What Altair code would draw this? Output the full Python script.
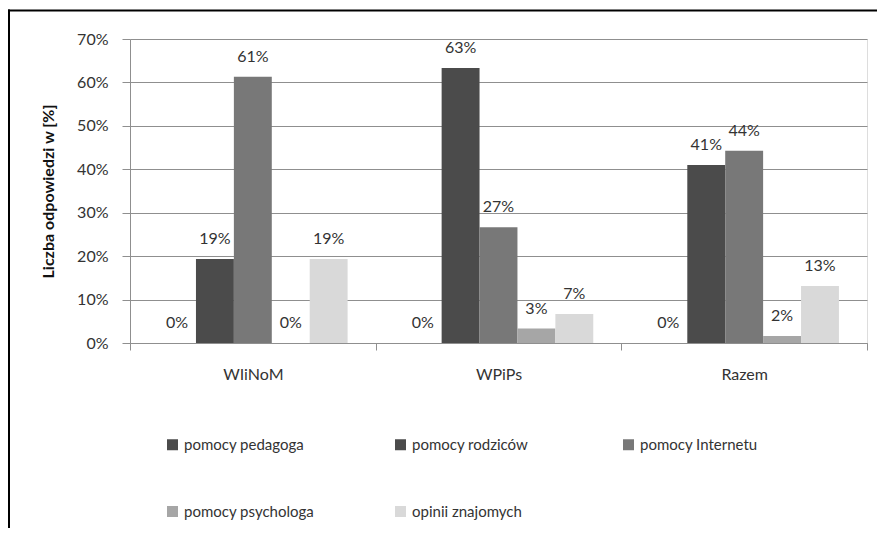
import altair as alt
import pandas as pd

groups = ["WIiNoM", "WPiPs", "Razem"]
series = ["pomocy pedagoga", "pomocy rodziców", "pomocy Internetu",
          "pomocy psychologa", "opinii znajomych"]
colors = ["#4b4b4b", "#4b4b4b", "#787878", "#a6a6a6", "#d9d9d9"]
wiinom = [0.0, 0.1935, 0.6129, 0.0, 0.1935]
wpips = [0.0, 0.6333, 0.2667, 0.0333, 0.0667]
razem = [0.0, 0.4098, 0.4426, 0.0164, 0.1311]
y_ticks = [0.0, 0.1, 0.2, 0.3, 0.4, 0.5, 0.6, 0.7]

rows = []
for g, vals in zip(groups, [wiinom, wpips, razem]):
    for s, v in zip(series, vals):
        rows.append({"group": g, "series": s, "value": v})
df = pd.DataFrame(rows)

FONT = "Lato"
TXT = "#333333"
GRID = "#8f8f8f"

x = alt.X("group:N", sort=groups,
          scale=alt.Scale(paddingInner=0, paddingOuter=0),
          axis=alt.Axis(title=None, labelAngle=0, tickBand="extent",
                        domainColor=GRID, tickColor=GRID, tickSize=7,
                        labelPadding=16, labelFontSize=16, labelColor=TXT,
                        labelFont=FONT, grid=False))
xo = alt.XOffset("series:N", sort=series,
                 scale=alt.Scale(paddingInner=0, paddingOuter=0.74))
y = alt.Y("value:Q", scale=alt.Scale(domain=[0, 0.7], nice=False),
          axis=alt.Axis(values=y_ticks, format=".0%",
                        title="Liczba odpowiedzi w [%]",
                        titleFont=FONT, titleFontSize=16, titleFontWeight="bold",
                        titleColor="#111111", titleAngle=-90,
                        titleX=-82, titleY=152, titleAlign="center",
                        titleBaseline="middle",
                        domainColor=GRID, tickColor=GRID, tickSize=8,
                        labelPadding=14, labelFontSize=16, labelColor=TXT,
                        labelFont=FONT, grid=True, gridColor=GRID,
                        gridWidth=1))

bars = alt.Chart(df).mark_bar().encode(
    x=x, xOffset=xo, y=y,
    color=alt.Color("series:N", sort=series,
                    scale=alt.Scale(domain=series, range=colors),
                    legend=alt.Legend(title=None, orient="none", legendX=35,
                                      legendY=398, columns=3,
                                      direction="horizontal",
                                      gridAlign="all", columnPadding=78,
                                      rowPadding=51, symbolType="square",
                                      symbolSize=121, symbolStrokeWidth=0,
                                      labelFont=FONT, labelFontSize=15,
                                      labelColor=TXT, labelOffset=4,
                                      labelLimit=300, padding=0)),
)

labels = alt.Chart(df).mark_text(
    dy=-15, baseline="alphabetic", fontSize=16, font=FONT, color=TXT
).encode(
    x=x, xOffset=xo, y=alt.Y("value:Q"),
    text=alt.Text("value:Q", format=".0%"),
)

frame_data = alt.Data(values=[{"k": 1}])
top_line = alt.Chart(frame_data).mark_rule(color="black", strokeWidth=2).encode(
    x=alt.value(-122), x2=alt.value(747), y=alt.value(-28.5))
left_line = alt.Chart(frame_data).mark_rule(color="black", strokeWidth=2).encode(
    x=alt.value(-121), y=alt.value(-29.5), y2=alt.value(490))

chart = alt.layer(bars, labels, top_line, left_line).properties(
    width=737, height=304,
    autosize=alt.AutoSizeParams(type="none"),
    padding={"left": 122, "top": 31, "right": 10, "bottom": 185},
).configure_view(stroke=None).configure(font=FONT)

chart.save("out.html", embed_options={"renderer": "svg", "actions": False})
